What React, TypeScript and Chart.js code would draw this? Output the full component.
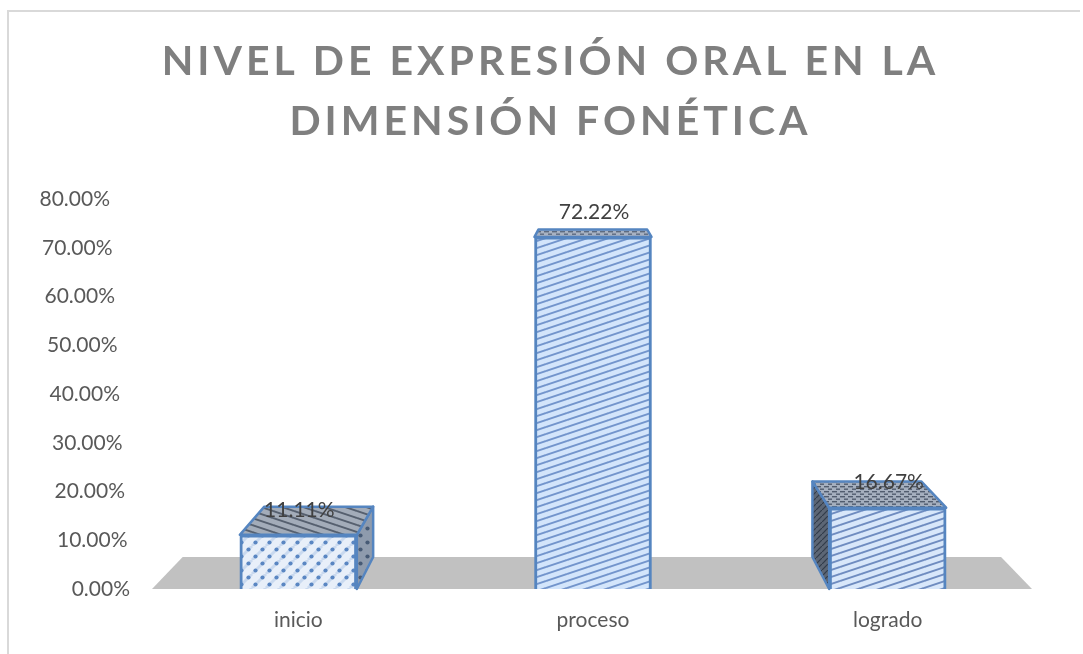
import React, { useEffect, useRef } from "react";
import Chart from "chart.js/auto";

const categories = ["inicio", "proceso", "logrado"];
const percentValues = [11.11, 72.22, 16.67];
const titleLines = ["NIVEL DE EXPRESIÓN ORAL EN LA", "DIMENSIÓN FONÉTICA"];

const EDGE = "#5585c0";
const DEPTH = 0.93;
const VANISH_X = 590;
const VANISH_Y = 132;

type Kind = "dots" | "lines" | "down" | "hatch" | "dark";

function makePattern(ctx: CanvasRenderingContext2D, kind: Kind, bg: string, fg: string, band?: string) {
  const t = document.createElement("canvas");
  const c = t.getContext("2d")!;
  if (kind === "dots") {
    t.width = 14;
    t.height = 14;
    c.fillStyle = bg;
    c.fillRect(0, 0, 14, 14);
    if (band) {
      c.strokeStyle = band;
      c.lineWidth = 3;
      for (const o of [-14, 0, 14]) {
        c.beginPath();
        c.moveTo(o, 14);
        c.lineTo(o + 14, 0);
        c.stroke();
      }
    }
    c.fillStyle = fg;
    for (const [x, y] of [[3.5, 10.5], [10.5, 3.5]]) {
      c.beginPath();
      c.arc(x, y, 2.1, 0, Math.PI * 2);
      c.fill();
    }
  } else if (kind === "lines" || kind === "down") {
    t.width = 21;
    t.height = 7;
    c.fillStyle = bg;
    c.fillRect(0, 0, 21, 7);
    c.strokeStyle = fg;
    c.lineWidth = 1.9;
    for (const o of [-7, 0, 7]) {
      c.beginPath();
      if (kind === "lines") {
        c.moveTo(0, 7 + o);
        c.lineTo(21, o);
      } else {
        c.moveTo(0, o);
        c.lineTo(21, 7 + o);
      }
      c.stroke();
    }
  } else if (kind === "hatch") {
    t.width = 8;
    t.height = 5;
    c.fillStyle = bg;
    c.fillRect(0, 0, 8, 5);
    c.fillStyle = fg;
    c.fillRect(0, 1, 5, 1.4);
    c.fillRect(4, 3.5, 5, 1.4);
  } else {
    t.width = 6;
    t.height = 6;
    c.fillStyle = bg;
    c.fillRect(0, 0, 6, 6);
    c.strokeStyle = fg;
    c.lineWidth = 1.2;
    c.beginPath();
    c.moveTo(0, 6);
    c.lineTo(6, 0);
    c.stroke();
  }
  return ctx.createPattern(t, "repeat")!;
}

const backX = (x: number) => VANISH_X + (x - VANISH_X) * DEPTH;
const backY = (y: number) => VANISH_Y + (y - VANISH_Y) * DEPTH;

function poly(ctx: CanvasRenderingContext2D, pts: number[][], fill: CanvasPattern | string | null, stroke?: string) {
  ctx.beginPath();
  pts.forEach((p, i) => (i ? ctx.lineTo(p[0], p[1]) : ctx.moveTo(p[0], p[1])));
  ctx.closePath();
  if (fill) {
    ctx.fillStyle = fill;
    ctx.fill();
  }
  if (stroke) {
    ctx.strokeStyle = stroke;
    ctx.lineWidth = 2.5;
    ctx.lineJoin = "round";
    ctx.stroke();
  }
}

export default function App() {
  const ref = useRef<HTMLCanvasElement>(null);
  useEffect(() => {
    const canvas = ref.current!;
    const ctx = canvas.getContext("2d")!;
    const fronts = [
      makePattern(ctx, "dots", "#e8eff9", "#5a86c2", "#c9d9ef"),
      makePattern(ctx, "lines", "#d3e5fb", "#7395cc"),
      makePattern(ctx, "lines", "#d8e7fa", "#6f8cc0"),
    ];
    const tops = [
      makePattern(ctx, "down", "#a3acb9", "#56606f"),
      makePattern(ctx, "hatch", "#a8b2c2", "#5e6b80"),
      makePattern(ctx, "hatch", "#a5afbe", "#515c6e"),
    ];
    const sides = [
      makePattern(ctx, "dots", "#8e9bad", "#465a75"),
      makePattern(ctx, "dark", "#9aa8bb", "#586a84"),
      makePattern(ctx, "dark", "#5c6675", "#323c4b"),
    ];

    const depthPlugin = {
      id: "depth",
      beforeDraw(chart: any) {
        const c = chart.ctx;
        c.save();
        c.fillStyle = "#ffffff";
        c.fillRect(0, 0, chart.width, chart.height);
        c.fillStyle = "#d9d9d9";
        c.fillRect(7, 10, 1073, 2);
        c.fillRect(7, 10, 2, chart.height - 10);
        c.restore();
        // the reference's tick labels lean with the 3D wall
        const y = chart.scales.y;
        const items = y.getLabelItems(chart.chartArea);
        if (!items.__leaned) {
          items.forEach((item: any, i: number) => {
            item.options.translation[0] -= y.ticks[i].value / 4;
          });
          items.__leaned = true;
        }
      },
      beforeDatasetsDraw(chart: any) {
        const c = chart.ctx;
        const a = chart.chartArea;
        const base = chart.scales.y.getPixelForValue(0);
        const floorL = a.left + 1;
        const floorR = a.right - 3;
        c.save();
        poly(
          c,
          [
            [floorL, base],
            [backX(floorL), backY(base)],
            [backX(floorR), backY(base)],
            [floorR, base],
          ],
          "#c1c1c1"
        );
        chart.getDatasetMeta(0).data.forEach((bar: any, i: number) => {
          const half = bar.width / 2;
          const l = bar.x - half;
          const r = bar.x + half;
          const t = bar.y;
          if (backX(r) > r) {
            poly(c, [[r, t], [backX(r), backY(t)], [backX(r), backY(base)], [r, base]], sides[i], EDGE);
          }
          if (backX(l) < l) {
            poly(c, [[l, t], [backX(l), backY(t)], [backX(l), backY(base)], [l, base]], sides[i], EDGE);
          }
          poly(c, [[l, t], [backX(l), backY(t)], [backX(r), backY(t)], [r, t]], tops[i], EDGE);
        });
        c.restore();
      },
      afterDatasetsDraw(chart: any) {
        const c = chart.ctx;
        c.save();
        c.font = "21px Lato";
        c.fillStyle = "#404040";
        c.textAlign = "center";
        c.textBaseline = "middle";
        chart.getDatasetMeta(0).data.forEach((bar: any, i: number) => {
          c.fillText(percentValues[i].toFixed(2) + "%", bar.x + 1, bar.y - 25);
        });
        c.restore();
      },
      afterLayout(chart: any) {
        const block = chart.titleBlock;
        if (block && !block.__spaced) {
          const draw = block.draw;
          block.draw = function () {
            const c = chart.ctx;
            c.save();
            c.translate(33, 2);
            c.letterSpacing = "4px";
            draw.call(this);
            c.restore();
          };
          block.__spaced = true;
        }
      },
    };

    const chart = new Chart(canvas, {
      type: "bar",
      data: {
        labels: categories,
        datasets: [
          {
            data: percentValues,
            backgroundColor: fronts,
            borderColor: EDGE,
            borderWidth: 3,
            barThickness: 117,
          },
        ],
      },
      options: {
        responsive: false,
        animation: false,
        layout: { padding: { left: 0, right: 48, top: 0, bottom: 20 } },
        plugins: {
          legend: { display: false },
          tooltip: { enabled: false },
          title: {
            display: true,
            text: titleLines,
            color: "#7f7f7f",
            font: { family: "Lato", size: 41, weight: "bold", lineHeight: 60 / 41 },
            padding: { top: 30, bottom: 49 },
          },
        },
        scales: {
          x: {
            grid: { display: false, drawTicks: false },
            border: { display: false },
            ticks: { color: "#595959", font: { family: "Lato", size: 21 }, padding: 19 },
            afterFit(s: any) {
              s.height = 45;
            },
          },
          y: {
            min: 0,
            max: 80,
            grid: { display: false, drawTicks: false },
            border: { display: false },
            ticks: {
              stepSize: 10,
              color: "#595959",
              font: { family: "Lato", size: 21 },
              padding: 21,
              callback: (v: any) => Number(v).toFixed(2) + "%",
            },
            afterFit(s: any) {
              s.width = 151;
            },
          },
        },
      },
      plugins: [depthPlugin],
    } as any);
    return () => chart.destroy();
  }, []);
  return (
    <div style={{ position: "absolute", left: 0, top: 0, width: 1083, height: 654 }}>
      <canvas ref={ref} width={1083} height={654} style={{ display: "block" }} />
    </div>
  );
}
